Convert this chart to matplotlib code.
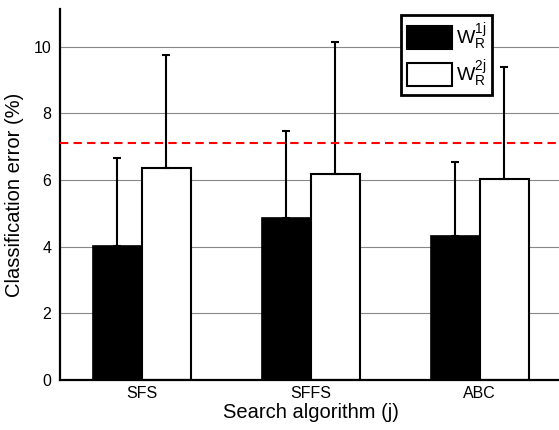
import numpy as np
import matplotlib.pyplot as plt
from matplotlib.patches import Patch

plt.rcParams['font.family'] = ['Liberation Sans', 'DejaVu Sans']
plt.rcParams['mathtext.fontset'] = 'custom'
plt.rcParams['mathtext.rm'] = 'Liberation Sans'
plt.rcParams['mathtext.it'] = 'Liberation Sans'

# data
algorithms = ['SFS', 'SFFS', 'ABC']
err_w1 = [4.03, 4.85, 4.32]
err_w2 = [6.37, 6.19, 6.02]
std_w1 = [2.64, 2.62, 2.22]
std_w2 = [3.38, 3.96, 3.36]
baseline = 7.12
labels = [r'$\mathrm{W}_\mathrm{R}^\mathrm{1j}$', r'$\mathrm{W}_\mathrm{R}^\mathrm{2j}$']

x = np.arange(1, len(algorithms) + 1)
w = 0.29

fig = plt.figure(figsize=(5.59, 4.30), dpi=100)
ax = fig.add_axes([0.107, 0.1163, 0.898, 0.863])

ax.bar(x - w / 2, err_w1, w, color='black', edgecolor='black', linewidth=1.2, zorder=2)
ax.bar(x + w / 2, err_w2, w, color='white', edgecolor='black', linewidth=1.5, zorder=2)
ax.errorbar(x - w / 2, err_w1, yerr=[np.zeros(3), std_w1], fmt='none', ecolor='black',
            elinewidth=1.5, capsize=3, capthick=1.5, zorder=3)
ax.errorbar(x + w / 2, err_w2, yerr=[np.zeros(3), std_w2], fmt='none', ecolor='black',
            elinewidth=1.5, capsize=3, capthick=1.5, zorder=3)

ax.axhline(baseline, color='red', linestyle=(0, (4, 2.5)), linewidth=1.5, zorder=4)

ax.set_xlim(0.515, 3.485)
ax.set_ylim(0, 11.13)
ax.set_yticks([0, 2, 4, 6, 8, 10])
ax.set_xticks(x)
ax.set_xticklabels(algorithms)
ax.yaxis.grid(True, color='#888888', linewidth=0.8, zorder=0)
ax.set_axisbelow(True)
ax.tick_params(length=0, labelsize=11.5, pad=6)
ax.tick_params(axis='x', pad=4)
for s in ['top', 'right']:
    ax.spines[s].set_visible(False)
for s in ['left', 'bottom']:
    ax.spines[s].set_linewidth(1.6)

ax.set_ylabel('Classification error (%)', fontsize=14.5, labelpad=7)
ax.set_xlabel('Search algorithm (j)', fontsize=14.5, labelpad=2)

handles = [Patch(facecolor='black', edgecolor='black', linewidth=1.5),
           Patch(facecolor='white', edgecolor='black', linewidth=1.5)]
leg = ax.legend(handles, labels, loc='upper right', bbox_to_anchor=(0.872, 0.998),
                fontsize=14, handlelength=2.3, handleheight=1.45, handletextpad=0.2,
                borderpad=0.3, labelspacing=0.3, borderaxespad=0.3,
                fancybox=False, framealpha=1, edgecolor='black')
leg.get_frame().set_linewidth(2)

fig.savefig('out.png', dpi=100)
